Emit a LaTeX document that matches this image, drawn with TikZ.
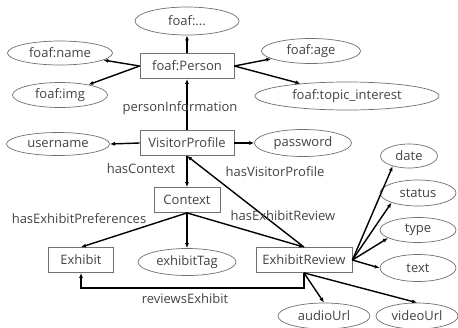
\documentclass[tikz,border=0pt]{standalone}
\usepackage{fontspec}
\setmainfont{Open Sans}
\usepackage{xcolor}
\usetikzlibrary{arrows.meta,shapes.geometric}
\definecolor{labelgray}{RGB}{68,68,68}
\definecolor{edgegray}{RGB}{112,112,112}
\tikzset{
  concept/.style={
    draw=edgegray,
    line width=0.8pt,
    fill=white,
    align=center,
    inner sep=2pt,
    minimum height=25pt,
    text=labelgray,
    font=\fontsize{13}{15}\selectfont
  },
  literal/.style={concept, ellipse, inner sep=0pt, line width=0.7pt},
  prop/.style={-{Latex[length=5pt,width=4pt]}, line width=1.4pt},
  wire/.style={line width=1.4pt},
  label/.style={text=labelgray, inner sep=1pt, font=\fontsize{13}{15}\selectfont}
}

\begin{document}
\begin{tikzpicture}[
      x=1pt,
      y=-1pt
    ]
    \fill[white] (0,0) rectangle (458,327);
    \useasboundingbox (0,0) rectangle (458,327);

    % foaf part
    \node[concept, minimum width=94pt] (person) at (187,66) {foaf:Person};
    \node[literal, minimum width=104pt, minimum height=28pt] (fmore) at (187,21) {foaf:...};
    \node[literal, minimum width=105pt, minimum height=24pt] (fname) at (60,53) {foaf:name};
    \node[literal, minimum width=95pt] (fimg) at (60,95) {foaf:img};
    \node[literal, minimum width=99pt] (fage) at (311,51) {foaf:age};
    \node[literal, minimum width=184pt, minimum height=28pt] (ftopic) at (347,96)
      {foaf:topic\_interest};

    % visitor and context
    \node[concept, minimum width=94pt] (visitor) at (187,143) {VisitorProfile};
    \node[literal, minimum width=103pt, minimum height=23pt] (user) at (58,144) {username};
    \node[literal, minimum width=97pt, minimum height=27pt] (pwd) at (303,143) {password};
    \node[concept, minimum width=66pt] (context) at (187,200) {Context};

    % exhibits and reviews
    \node[concept, minimum width=65pt] (exhibit) at (81,260) {Exhibit};
    \node[literal, minimum width=98pt, minimum height=27pt] (tag) at (187,262) {exhibitTag};
    \node[concept, minimum width=96pt] (review) at (304,260) {ExhibitReview};
    \node[literal, minimum width=57pt, minimum height=24pt] (date) at (409,156) {date};
    \node[literal, minimum width=76pt, minimum height=26pt] (status) at (418,193) {status};
    \node[literal, minimum width=76pt] (type) at (418,230) {type};
    \node[literal, minimum width=76pt, minimum height=27pt] (text) at (418,268) {text};
    \node[literal, minimum width=92pt, minimum height=26pt] (audio) at (324,316) {audioUrl};
    \node[literal, minimum width=82pt, minimum height=26pt] (video) at (417,316) {videoUrl};

    \draw[prop] (person.north) -- (fmore.south);
    \draw[prop] (person.west) -- (fname);
    \draw[prop] (person.west) -- (fimg);
    \draw[prop] (person.east) -- (fage);
    \draw[prop] (person.east) -- (ftopic);

    \draw[prop] (visitor.north) -- (person.south);
    \draw[prop] (visitor.west) -- (user.east);
    \draw[prop] (visitor.east) -- (pwd.west);
    \draw[prop] (visitor.south) -- (context.north);

    \draw[prop] (context.south) -- (exhibit.north);
    \draw[prop] (context.south) -- (tag.north);
    \draw[prop] (context.south) -- (review.north);
    \draw[prop] (review.north) -- (visitor.south);

    \draw[prop] (review.east) -- (date.212);
    \draw[prop] (review.east) -- (status.200);
    \draw[prop] (review.east) -- (type.195);
    \draw[prop] (review.east) -- (text.west);
    \draw[prop] (review.south) -- (audio.north);
    \draw[prop] (review.south) -- (video.north);
    \draw[prop] (review.south) -- ++(0,15) -| (exhibit.south);

    % edge labels
    \node[label] (lperson) at (180,108) {personInformation};
    \node[label] (lcontext) at (141,169) {hasContext};
    \node[label] (lvisitor) at (275,172) {hasVisitorProfile};
    \node[label] (lreview) at (283,216) {hasExhibitReview};
    \node[label] (lpref) at (79,219) {hasExhibitPreferences};
    \node[label] (lexhibit) at (185,299) {reviewsExhibit};
  \end{tikzpicture}
\end{document}
